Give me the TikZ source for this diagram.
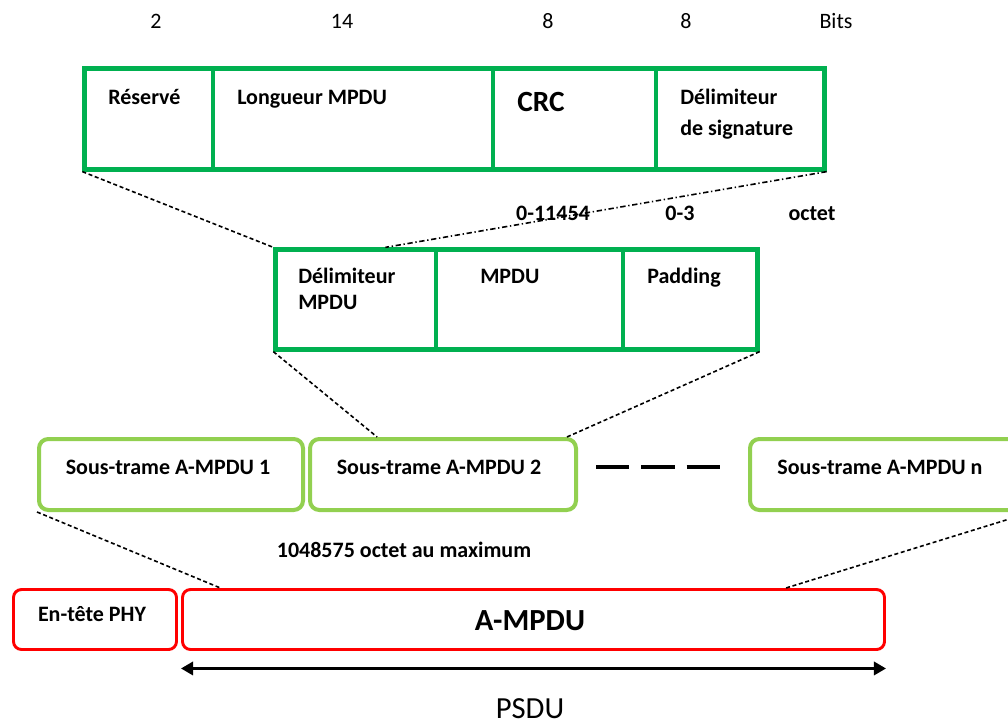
\documentclass[tikz,border=0pt]{standalone}
\usepackage{fontspec}
\setmainfont{Carlito}
\usetikzlibrary{fit,calc,arrows.meta}
\definecolor{dgreen}{RGB}{0,176,80}
\definecolor{lgreen}{RGB}{146,208,80}
\definecolor{redb}{RGB}{255,0,0}
\begin{document}
\begin{tikzpicture}[x=0.75pt,y=-0.75pt,
  field/.style={draw=dgreen, line width=3.2pt, inner sep=0pt},
  sub/.style={draw=lgreen, line width=3pt, rounded corners=7pt, inner sep=0pt},
  redbox/.style={draw=redb, line width=2.2pt, rounded corners=6pt, inner sep=0pt},
  lbl/.style={font=\fontsize{16.5}{20}\selectfont\bfseries, inner sep=0pt, anchor=base west},
  clbl/.style={font=\fontsize{16.5}{20}\selectfont\bfseries, inner sep=0pt, anchor=base},
  num/.style={font=\fontsize{16.5}{20}\selectfont, inner sep=0pt, anchor=base},
  conn/.style={black, line width=1.2pt, dash pattern=on 3pt off 2pt},
  dashdotconn/.style={black, line width=1.2pt, dash pattern=on 4pt off 2pt on 1pt off 2pt},
]
\useasboundingbox (0,0) rectangle (1008,725);
\clip (0,0) rectangle (1008,725);

% bit sizes
\node[num] (b1) at (156,28) {2};
\node[num] (b2) at (342,28) {14};
\node[num] (b3) at (548,28) {8};
\node[num] (b4) at (686,28) {8};
\node[num] (b5) at (836,28) {Bits};

% top fields
\node[field, fit={(84.5,68.5) (213,169.5)}] (res) {};
\node[field, fit={(213,68.5) (493,169.5)}] (lon) {};
\node[field, fit={(493,68.5) (656,169.5)}] (crc) {};
\node[field, fit={(656,68.5) (824.5,169.5)}] (dsig) {};
\node[lbl] (tres) at (108,104) {Réservé};
\node[lbl] (tlon) at (237,104) {Longueur MPDU};
\node[lbl, font=\fontsize{22}{26}\selectfont\bfseries] (tcrc) at (517,111) {CRC};
\node[lbl] (tdsig1) at (680,104) {Délimiteur};
\node[lbl] (tdsig2) at (680,135) {de signature};

% octet sizes
\node[clbl] (o1) at (553,220) {0-11454};
\node[clbl] (o2) at (680,220) {0-3};
\node[clbl] (o3) at (812,220) {octet};

% middle fields
\node[field, fit={(275.5,249.5) (436,349.5)}] (mdel) {};
\node[field, fit={(436,249.5) (623,349.5)}] (mpdu) {};
\node[field, fit={(623,249.5) (757.5,349.5)}] (pad) {};
\node[lbl] (tmdel1) at (298,283) {Délimiteur};
\node[lbl] (tmdel2) at (298,309) {MPDU};
\node[lbl] (tmpdu) at (480,283) {MPDU};
\node[lbl] (tpad) at (647,283) {Padding};

% subframes
\node[sub, fit={(39,439) (303,510)}] (s1) {};
\node[sub, fit={(310,439) (576,510)}] (s2) {};
\node[sub, fit={(750,439) (1030,510)}] (sn) {};
\node[clbl] (ts1) at (168,474) {Sous-trame A-MPDU 1};
\node[clbl] (ts2) at (439,474) {Sous-trame A-MPDU 2};
\node[clbl] (tsn) at (880,474) {Sous-trame A-MPDU n};
\coordinate (d1) at (596,467);
\coordinate (d2) at (720,467);
\draw[line width=3.5pt, dash pattern=on 25pt off 9pt] (d1) -- (d2);

\node[clbl] (tmax) at (404,557) {1048575 octet au maximum};

% PHY frame
\node[redbox, fit={(13.5,589.5) (176.5,649.5)}] (phy) {};
\node[redbox, fit={(182.5,589.5) (884.5,649.5)}] (ampdu) {};
\node[clbl] (tphy) at (92,621) {En-tête PHY};
\node[clbl, font=\fontsize{23}{27}\selectfont\bfseries] (tampdu) at (530,630) {A-MPDU};

\draw[{Triangle[length=9pt,width=10pt]}-{Triangle[length=9pt,width=10pt]}, line width=1.8pt]
  ($(ampdu.south west)+(0,17.5)$) -- ($(ampdu.south east)+(0,17.5)$);
\node[num, font=\fontsize{23}{27}\selectfont] (psdu) at (530,718) {PSDU};

% connectors
\draw[conn] (res.south west) -- (mdel.north west);
\draw[dashdotconn] (dsig.south east) -- ($(mdel.north west)!0.68!(mdel.north east)$);
\draw[conn] (mdel.south west) -- ($(s2.north west)!0.256!(s2.north east)$);
\draw[conn] (pad.south east) -- ($(s2.north west)!0.959!(s2.north east)$);
\draw[conn] (s1.south west) -- ($(ampdu.north west)!0.056!(ampdu.north east)$);
\draw[conn] (sn.south east) -- ($(ampdu.north west)!0.858!(ampdu.north east)$);
\end{tikzpicture}
\end{document}
